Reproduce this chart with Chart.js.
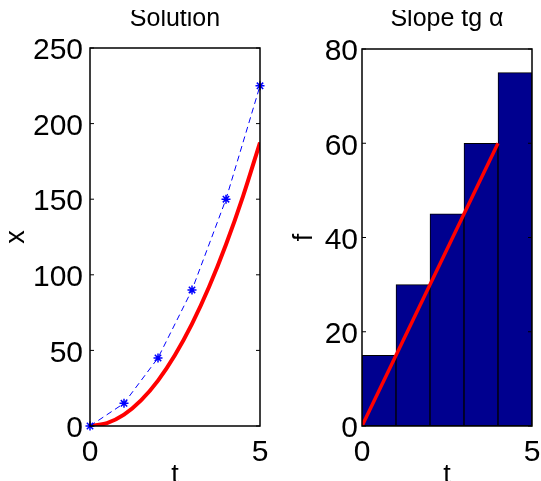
<!DOCTYPE html>
<html>
<head>
<meta charset="utf-8">
<script src="https://cdn.jsdelivr.net/npm/chart.js@4/dist/chart.umd.min.js"></script>
<style>
  html, body { margin: 0; padding: 0; background: #fff; overflow: hidden; width: 541px; height: 481px; }
  canvas { position: absolute; top: 0; }
  #solution { left: 0; }
  #slope { left: 275px; }
</style>
</head>
<body>
<canvas id="solution" width="278" height="481"></canvas>
<canvas id="slope" width="275" height="481"></canvas>
<script>
// Euler steps
const stepT = [0, 1, 2, 3, 4, 5];
const eulerX = [0, 15, 45, 90, 150, 225];
// exact solution
const exactT = [0, 0.5, 1, 1.5, 2, 2.5, 3, 3.5, 4, 4.5, 5];
const exactX = [0, 1.9, 7.5, 16.9, 30, 46.9, 67.5, 91.9, 120, 151.9, 187.5];
// slope on each interval
const intervalMid = [0.5, 1.5, 2.5, 3.5, 4.5];
const slopeF = [15, 30, 45, 60, 75];
const slopeLineT = [0, 4];
const slopeLineF = [0, 60];

const tTicks = [0, 5];
const xTicks = [0, 50, 100, 150, 200, 250];
const fTicks = [0, 20, 40, 60, 80];

const FONT = 'Liberation Sans';
const pts = (xs, ys) => xs.map((x, i) => ({ x: x, y: ys[i] }));

// box, inward ticks, title and axis labels
const frame = {
  id: 'frame',
  afterDatasetsDraw(chart, args, opts) {
    const { ctx, chartArea: a, scales } = chart;
    ctx.save();
    ctx.strokeStyle = '#000';
    ctx.lineWidth = 1.5;
    ctx.strokeRect(a.left, a.top, a.right - a.left, a.bottom - a.top);
    ctx.lineWidth = 1;
    scales.y.ticks.forEach(t => {
      const y = scales.y.getPixelForValue(t.value);
      ctx.beginPath();
      ctx.moveTo(a.left, y); ctx.lineTo(a.left + 4, y);
      ctx.moveTo(a.right, y); ctx.lineTo(a.right - 4, y);
      ctx.stroke();
    });
    ctx.fillStyle = '#000';
    ctx.textAlign = 'center';
    ctx.textBaseline = 'alphabetic';
    // title is cut off along the top edge
    ctx.save();
    ctx.beginPath();
    ctx.rect(0, 10, chart.width, chart.height);
    ctx.clip();
    ctx.font = '25px "' + FONT + '"';
    ctx.fillText(opts.title, (a.left + a.right) / 2, 26);
    ctx.restore();
    ctx.font = '27px "' + FONT + '"';
    ctx.fillText(opts.xLabel, (a.left + a.right) / 2, 483);
    ctx.translate(opts.yLabelX, (a.top + a.bottom) / 2);
    ctx.rotate(-Math.PI / 2);
    ctx.fillText(opts.yLabel, 0, 0);
    ctx.restore();
  }
};

function axes(yTicks, yMax, yWidth, yPad) {
  return {
    x: {
      type: 'linear', min: 0, max: 5, offset: false,
      grid: { display: false, drawTicks: false }, border: { display: false },
      afterBuildTicks: s => { s.ticks = tTicks.map(v => ({ value: v })); },
      afterFit: s => { s.height = 55; },
      ticks: { font: { family: FONT, size: 30 }, color: '#000', padding: 9, maxRotation: 0, autoSkip: false }
    },
    y: {
      type: 'linear', min: 0, max: yMax,
      grid: { display: false, drawTicks: false }, border: { display: false },
      afterBuildTicks: s => { s.ticks = yTicks.map(v => ({ value: v })); },
      afterFit: s => { s.width = yWidth; },
      ticks: { font: { family: FONT, size: 30 }, color: '#000', padding: yPad, labelOffset: 3 }
    }
  };
}

new Chart(document.getElementById('solution'), {
  type: 'scatter',
  data: {
    datasets: [
      {
        data: pts(stepT, eulerX),
        showLine: true,
        borderColor: '#0000ff',
        borderWidth: 1,
        borderDash: [6, 4],
        pointStyle: 'star',
        pointRadius: 4.5,
        pointBorderWidth: 1.5,
        pointBorderColor: '#0000ff',
        clip: false
      },
      {
        data: pts(exactT, exactX),
        showLine: true,
        borderColor: '#ff0000',
        borderWidth: 4,
        pointRadius: 0,
        cubicInterpolationMode: 'monotone'
      }
    ]
  },
  options: {
    responsive: false,
    animation: false,
    layout: { padding: { left: 0, right: 18, top: 48, bottom: 0 } },
    scales: axes(xTicks, 250, 90, 7),
    plugins: {
      legend: { display: false },
      tooltip: { enabled: false },
      frame: { title: 'Solution', xLabel: 't', yLabel: 'x', yLabelX: 24 }
    }
  },
  plugins: [frame]
});

new Chart(document.getElementById('slope'), {
  type: 'bar',
  data: {
    datasets: [
      {
        type: 'line',
        data: pts(slopeLineT, slopeLineF),
        borderColor: '#ff0000',
        borderWidth: 3.5,
        pointRadius: 0,
        order: 0
      },
      {
        data: pts(intervalMid, slopeF),
        backgroundColor: '#00008f',
        borderColor: '#000',
        borderWidth: 1,
        borderSkipped: false,
        barPercentage: 1,
        categoryPercentage: 1,
        order: 1
      }
    ]
  },
  options: {
    responsive: false,
    animation: false,
    layout: { padding: { left: 0, right: 18, top: 49, bottom: 0 } },
    scales: axes(fTicks, 80, 87, 4),
    plugins: {
      legend: { display: false },
      tooltip: { enabled: false },
      frame: { title: 'Slope tg \u03b1', xLabel: 't', yLabel: 'f', yLabelX: 37 }
    }
  },
  plugins: [frame]
});
</script>
</body>
</html>
